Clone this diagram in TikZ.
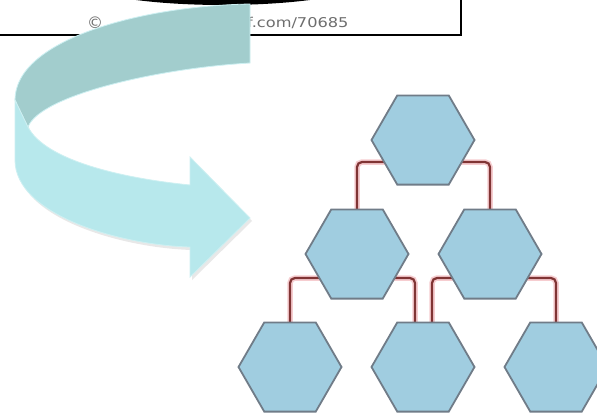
\documentclass[tikz,border=0pt]{standalone}
\usepackage{fontspec}
\newfontfamily\credfont{DejaVu Sans}
\usetikzlibrary{shapes.geometric,shadows}
\definecolor{hexblue}{RGB}{160,205,224}
\definecolor{hexedge}{RGB}{112,124,136}
\definecolor{linkred}{RGB}{128,52,52}
\definecolor{linkglow}{RGB}{246,205,208}
\definecolor{ribbonback}{RGB}{162,205,205}
\definecolor{ribbonfront}{RGB}{183,232,236}
\definecolor{ribbonedge}{RGB}{205,240,242}
\definecolor{credgray}{RGB}{110,110,110}
\pgfdeclarelayer{background}
\pgfsetlayers{background,main}

\begin{document}
\begin{tikzpicture}[x=1pt,y=-1pt,
  hexa/.style={draw=hexedge, line width=1.8pt, fill=hexblue, regular polygon,
    regular polygon sides=6, minimum size=103pt, inner sep=0pt, outer sep=0pt},
  link/.style={draw=linkred, line width=2.2pt, rounded corners=5pt,
    preaction={draw=linkglow, line width=5.5pt}},
  credit/.style={credgray, inner sep=0pt, font=\credfont\fontsize{13.5}{13.5}\selectfont}]
  \useasboundingbox (0,0) rectangle (597,418);
  \clip (0,0) rectangle (597,418);

  % cut-off frame at the top
  \fill[black] (223,-25) ellipse [x radius=157pt, y radius=30pt];
  \draw[line width=2pt] (0,35) -- (461,35) -- (461,0);
  \node[credit, anchor=base, font=\credfont\fontsize{16}{16}\selectfont] (copy) at (95,28) {©};
  \node[credit, anchor=base west, xscale=1.2] (url) at (247,27) {f.com/70685};

  % curved ribbon arrow
  \fill[ribbonback, draw=ribbonedge, line width=0.8pt]
    (250,4) .. controls (140,6) and (15,40) .. (15,100) -- (28,127)
    .. controls (40,95) and (160,68) .. (250,63) -- cycle;
  \fill[ribbonfront, draw=ribbonedge, line width=0.8pt,
    drop shadow={opacity=0.18, shadow xshift=2pt, shadow yshift=-3pt}]
    (15,100) -- (15,160) .. controls (15,215) and (120,245) .. (190,247)
    -- (190,277) -- (250,218) -- (190,157) -- (190,185)
    .. controls (120,178) and (45,160) .. (28,127) -- cycle;

  % tree of hexagons
  \node[hexa] (root) at (423,140) {};
  \node[hexa] (midL) at (357,254) {};
  \node[hexa] (midR) at (490,254) {};
  \node[hexa] (botL) at (290,367) {};
  \node[hexa] (botM) at (423,367) {};
  \node[hexa] (botR) at (556,367) {};

  \begin{pgfonlayer}{background}
    \fill[white] (0,0) rectangle (597,418);
    \draw[link] ([yshift=-22pt]root.center) -| (midL.north);
    \draw[link] ([yshift=-22pt]root.center) -| (midR.north);
    \draw[link] ([yshift=-24pt]midL.center) -| (botL.north);
    \draw[link] ([yshift=-24pt]midL.center) -| ([xshift=-8pt]botM.north);
    \draw[link] ([yshift=-24pt]midR.center) -| ([xshift=9pt]botM.north);
    \draw[link] ([yshift=-24pt]midR.center) -| (botR.north);
  \end{pgfonlayer}
\end{tikzpicture}
\end{document}
